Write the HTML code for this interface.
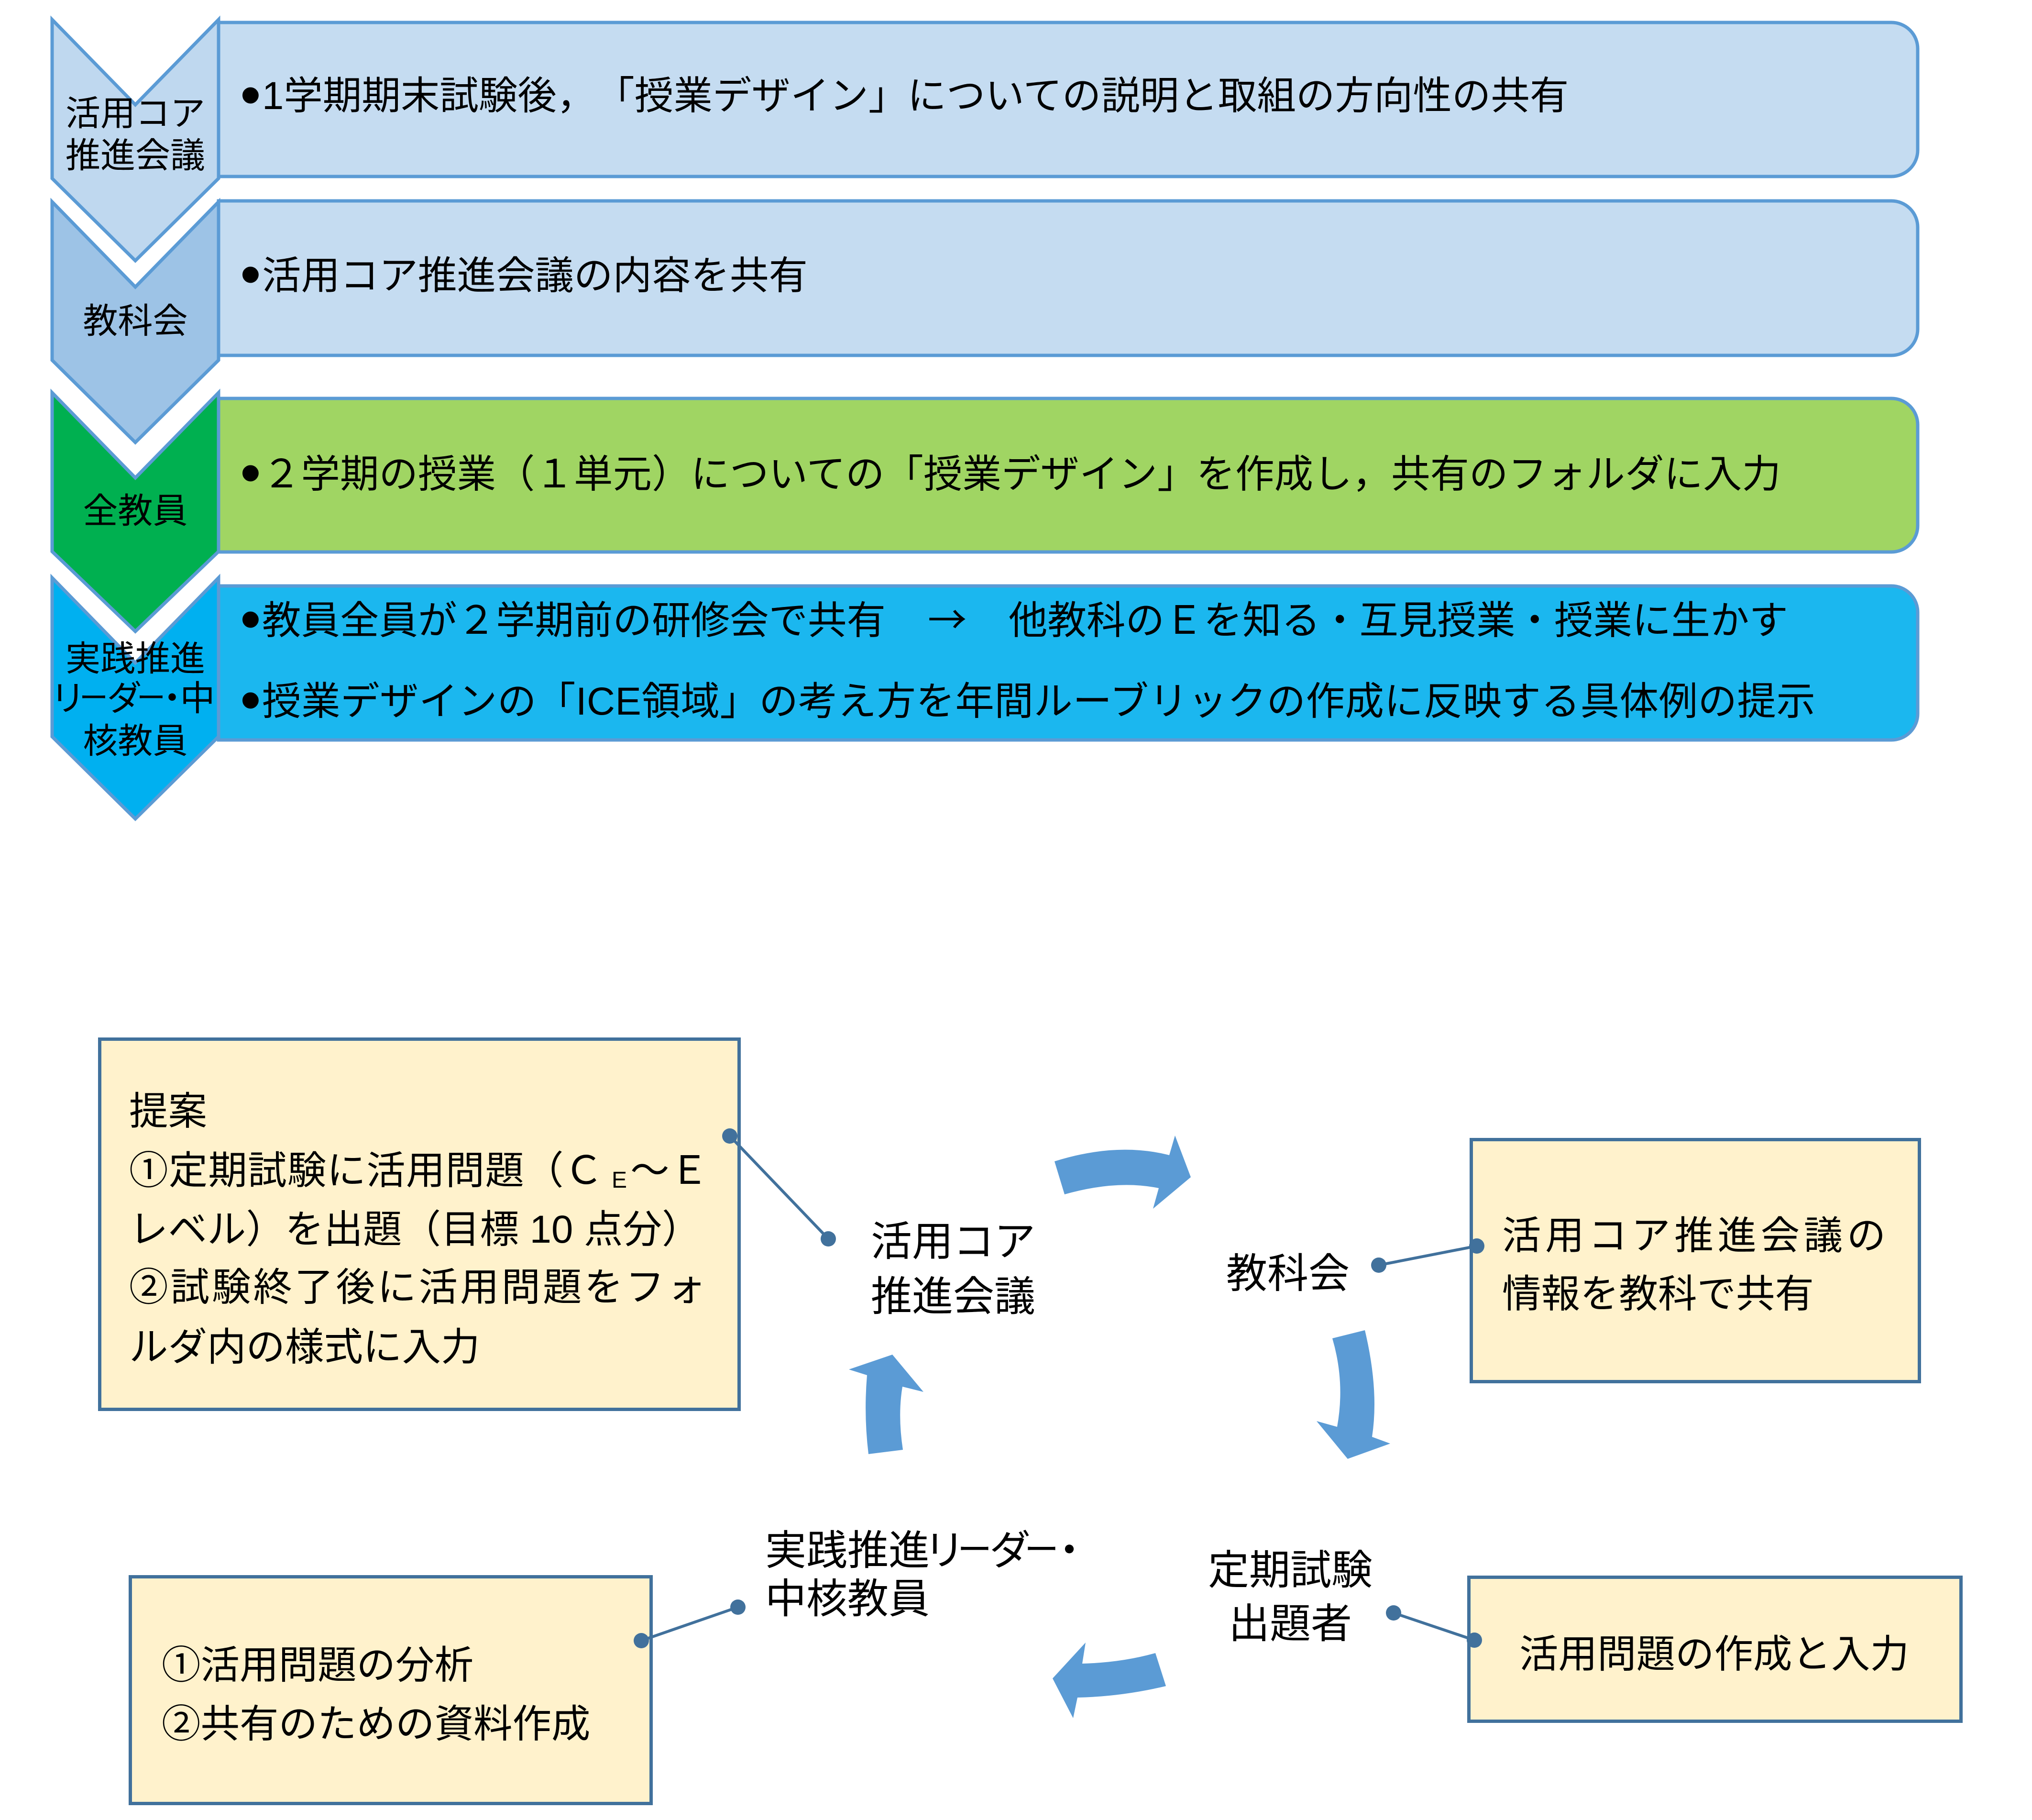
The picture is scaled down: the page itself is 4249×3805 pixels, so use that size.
<!DOCTYPE html>
<html lang="ja">
<head>
<meta charset="utf-8">
<style>
  html,body{margin:0;padding:0;background:#ffffff;}
  body{width:4249px;height:3805px;overflow:hidden;}
  svg{display:block;}
  text{font-family:"Liberation Sans","Noto Sans CJK JP",sans-serif;fill:#000;text-spacing-trim:space-all;}
  .cj{font-family:"Noto Sans CJK JP","Liberation Sans",sans-serif;}
</style>
</head>
<body>
<svg width="4249" height="3805" viewBox="0 0 4249 3805" xmlns="http://www.w3.org/2000/svg">
  <!-- ===== TOP: rounded boxes ===== -->
  <g stroke="#5b9bd5" stroke-width="7">
    <path d="M457,47 H3955 A55,55 0 0 1 4010,102 V314 A55,55 0 0 1 3955,369 H457 Z" fill="#c5dcf1"/>
    <path d="M457,420 H3955 A55,55 0 0 1 4010,475 V688 A55,55 0 0 1 3955,743 H457 Z" fill="#c5dcf1"/>
    <path d="M457,833 H3955 A55,55 0 0 1 4010,888 V1099 A55,55 0 0 1 3955,1154 H457 Z" fill="#a0d563"/>
    <path d="M457,1225 H3955 A55,55 0 0 1 4010,1280 V1492 A55,55 0 0 1 3955,1547 H457 Z" fill="#1bb7ef"/>
  </g>

  <!-- ===== TOP: chevrons ===== -->
  <g stroke="#5b9bd5" stroke-width="7" stroke-linejoin="miter">
    <path d="M109,41 L283,219 L457,41 L457,373 L283,545 L109,373 Z" fill="#bfd8ef"/>
    <path d="M109,422 L283,600 L457,422 L457,753 L283,925 L109,753 Z" fill="#9dc3e6"/>
    <path d="M109,821 L283,999 L457,821 L457,1153 L283,1320 L109,1153 Z" fill="#00b050"/>
    <path d="M109,1208 L283,1386 L457,1208 L457,1540 L283,1712 L109,1540 Z" fill="#00b0f0"/>
  </g>

  <!-- chevron labels -->
  <g font-size="73" text-anchor="middle">
    <text x="283" y="262">活用コア</text>
    <text x="283" y="350">推進会議</text>
    <text x="283" y="696">教科会</text>
    <text x="283" y="1093">全教員</text>
    <text x="283" y="1402">実践推進</text>
    <text y="1485"><tspan x="142">リ</tspan><tspan x="196" y="1480" font-size="60">ー</tspan><tspan x="260" y="1485">ダ</tspan><tspan x="316" y="1480" font-size="60">ー</tspan><tspan x="360" y="1485">・</tspan><tspan x="413">中</tspan></text>
    <text x="283" y="1574">核教員</text>
  </g>

  <!-- bullets -->
  <g font-size="125">
    <text x="502" y="241">•</text>
    <text x="502" y="616">•</text>
    <text x="502" y="1031">•</text>
    <text x="502" y="1337">•</text>
    <text x="502" y="1506">•</text>
  </g>

  <!-- box texts -->
  <g font-size="81.5">
    <text x="548" y="228">1学期期末試験後，「授業デザイン」についての説明と取組の方向性の共有</text>
    <text x="548" y="604">活用コア推進会議の内容を共有</text>
    <text x="548" y="1019">２学期の授業（１単元）についての「授業デザイン」を作成し，共有のフォルダに入力</text>
    <text x="548" y="1325">教員全員が２学期前の研修会で共有</text>
    <text x="1940" y="1325" class="cj">→</text>
    <text x="2109" y="1325">他教科のＥを知る・互見授業・授業に生かす</text>
    <text x="548" y="1494" letter-spacing="0.5">授業デザインの「ICE領域」の考え方を年間ルーブリックの作成に反映する具体例の提示</text>
  </g>

  <!-- ===== BOTTOM: boxes ===== -->
  <g stroke="#41719c" stroke-width="7" fill="#fff2cc">
    <rect x="208.5" y="2172.5" width="1337" height="774"/>
    <rect x="272.5" y="3296.5" width="1089" height="474"/>
    <rect x="3076.5" y="2382.5" width="937" height="506"/>
    <rect x="3071.5" y="3297.5" width="1029" height="301"/>
  </g>

  <!-- connectors -->
  <g stroke="#41719c" stroke-width="6" stroke-linecap="round">
    <line x1="1526" y1="2375" x2="1732" y2="2590"/>
    <line x1="1341" y1="3430" x2="1543" y2="3360"/>
    <line x1="2883" y1="2645" x2="3088" y2="2605"/>
    <line x1="2914" y1="3372" x2="3083" y2="3429"/>
  </g>
  <g fill="#41719c">
    <circle cx="1526" cy="2375" r="16"/>
    <circle cx="1732" cy="2590" r="16"/>
    <circle cx="1341" cy="3430" r="16"/>
    <circle cx="1543" cy="3360" r="16"/>
    <circle cx="2883" cy="2645" r="16"/>
    <circle cx="3088" cy="2605" r="16"/>
    <circle cx="2914" cy="3372" r="16"/>
    <circle cx="3083" cy="3429" r="16"/>
  </g>

  <!-- cycle arrows -->
  <g fill="#5b9bd5">
    <path d="M2205,2428 Q2335,2387 2445,2415 L2457,2374 L2490,2461 L2411,2527 L2423,2484 Q2335,2466 2226,2497 Z"/>
    <path d="M2786,2798 L2854,2781 Q2884,2907 2869,3004 L2907,3018 L2818,3050 L2753,2971 L2796,2983 Q2813,2890 2786,2798 Z"/>
    <path d="M2416,3456 Q2345,3476 2263,3478 L2270,3434 L2201,3509 L2244,3592 L2253,3549 Q2345,3547 2438,3525 Z"/>
    <path d="M1816,3040 Q1806,2958 1813,2875 L1775,2863 L1866,2832 L1931,2910 L1887,2899 Q1877,2959 1888,3031 Z"/>
  </g>

  <!-- center labels -->
  <g font-size="86">
    <text x="1821" y="2625">活用コア</text>
    <text x="1821" y="2740">推進会議</text>
    <text x="2564" y="2692">教科会</text>
    <text x="2698" y="3312" text-anchor="middle">定期試験</text>
    <text x="2698" y="3424" text-anchor="middle">出題者</text>
    <text x="1600" y="3271">実践推進</text>
    <text y="3271" text-anchor="middle"><tspan x="1975">リ</tspan><tspan x="2038" y="3265" font-size="72">ー</tspan><tspan x="2112" y="3271">ダ</tspan><tspan x="2178" y="3265" font-size="72">ー</tspan><tspan x="2236" y="3271">・</tspan></text>
    <text x="1600" y="3372">中核教員</text>
  </g>

  <!-- proposal box text -->
  <g font-size="81.5">
    <text x="270" y="2351">提案</text>
    <text x="270" y="2475" letter-spacing="1.2">①定期試験に活用問題（Ｃ</text>
    <text x="1279" y="2483" font-size="48">E</text>
    <text x="1318" y="2475" letter-spacing="1">～Ｅ</text>
    <text x="270" y="2598">レベル）を出題（目標 10 点分）</text>
    <text x="270" y="2719" letter-spacing="5">②試験終了後に活用問題をフォ</text>
    <text x="270" y="2844">ルダ内の様式に入力</text>

    <text x="338" y="3509">①活用問題の分析</text>
    <text x="338" y="3632">②共有のための資料作成</text>

    <text x="3141" y="2611" letter-spacing="8.6">活用コア推進会議の</text>
    <text x="3141" y="2733">情報を教科で共有</text>

    <text x="3177" y="3486">活用問題の作成と入力</text>
  </g>
</svg>
</body>
</html>
